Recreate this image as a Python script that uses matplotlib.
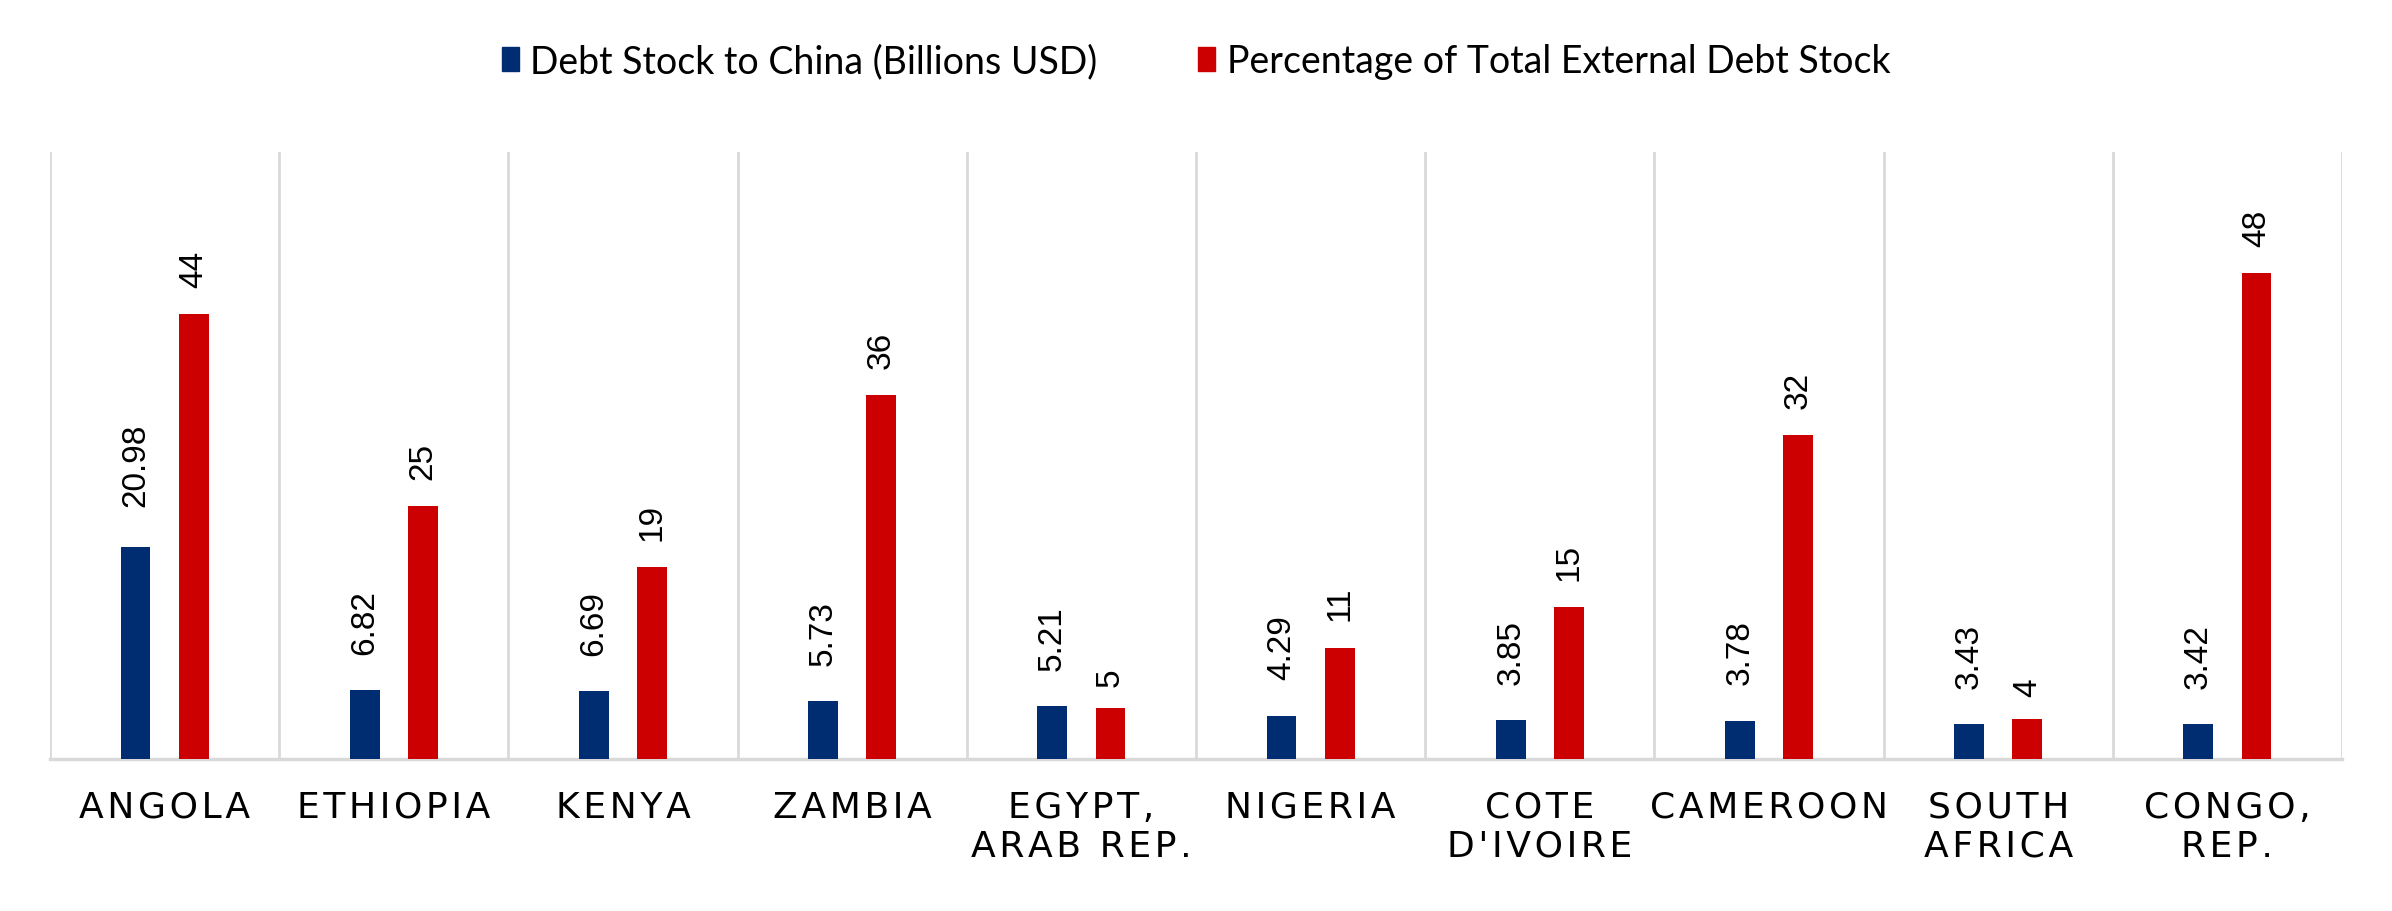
import numpy as np
import matplotlib.pyplot as plt
from matplotlib.patches import Patch

countries = ["ANGOLA", "ETHIOPIA", "KENYA", "ZAMBIA", "EGYPT,\nARAB REP.", "NIGERIA",
             "COTE\nD'IVOIRE", "CAMEROON", "SOUTH\nAFRICA", "CONGO,\nREP."]
debt_china = [20.98, 6.82, 6.69, 5.73, 5.21, 4.29, 3.85, 3.78, 3.43, 3.42]
pct_external = [44, 25, 19, 36, 5, 11, 15, 32, 4, 48]
debt_labels = ["20.98", "6.82", "6.69", "5.73", "5.21", "4.29", "3.85", "3.78", "3.43", "3.42"]
pct_labels = [str(v) for v in pct_external]

BLUE = "#002D72"
RED = "#CC0000"
GRID = "#D9D9D9"
HAIR = "\u200a"


def spaced(s):
    # wide letter spacing like the original axis labels
    lines = []
    for line in s.split("\n"):
        words = [HAIR.join(w) for w in line.split(" ")]
        lines.append((HAIR + " " + HAIR).join(words))
    return "\n".join(lines)


fig = plt.figure(figsize=(23.92, 9.12), dpi=100)
ax = fig.add_axes([50 / 2392, 1 - 760 / 912, 2292 / 2392, 607 / 912])

x = np.arange(len(countries))
w = 0.13
off = 0.127
ax.bar(x - off, debt_china, w, color=BLUE, zorder=3)
ax.bar(x + off, pct_external, w, color=RED, zorder=3)

for xi, v, lab in zip(x - off, debt_china, debt_labels):
    ax.annotate(lab, (xi, v), xytext=(0, 13 + 3.3 * len(lab)), textcoords="offset points",
                rotation=90, ha="center", va="bottom", fontsize=24, family="Liberation Sans")
for xi, v, lab in zip(x + off, pct_external, pct_labels):
    ax.annotate(lab, (xi, v), xytext=(0, 13 + 3.3 * len(lab)), textcoords="offset points",
                rotation=90, ha="center", va="bottom", fontsize=24, family="Liberation Sans")

ax.set_xlim(-0.5, len(countries) - 0.5)
ax.set_ylim(0, 60)
ax.set_yticks([])
ax.set_xticks(x)
ax.set_xticklabels([spaced(c) for c in countries], fontsize=26,
                   family=["Liberation Sans Narrow", "DejaVu Sans"], linespacing=1.2)
ax.tick_params(axis="x", length=0, pad=22)
ax.set_xticks(np.arange(-0.5, len(countries)), minor=True)
ax.tick_params(axis="x", which="minor", length=0)
ax.grid(which="minor", axis="x", color=GRID, lw=2)
ax.grid(which="major", visible=False)
for s in ["top", "left", "right"]:
    ax.spines[s].set_visible(False)
ax.spines["bottom"].set_color(GRID)
ax.spines["bottom"].set_linewidth(2.5)

handles = [Patch(color=BLUE, label="Debt Stock to China (Billions USD)"),
           Patch(color=RED, label="Percentage of Total External Debt Stock")]
fig.legend(handles=handles, loc="center", bbox_to_anchor=(0.5, 1 - 62 / 912), ncol=2,
           frameon=False, prop={"family": "Lato", "size": 27}, handlelength=0.45,
           handleheight=0.6, handletextpad=0.3, columnspacing=2.7)

fig.savefig("out.png", dpi=100)
